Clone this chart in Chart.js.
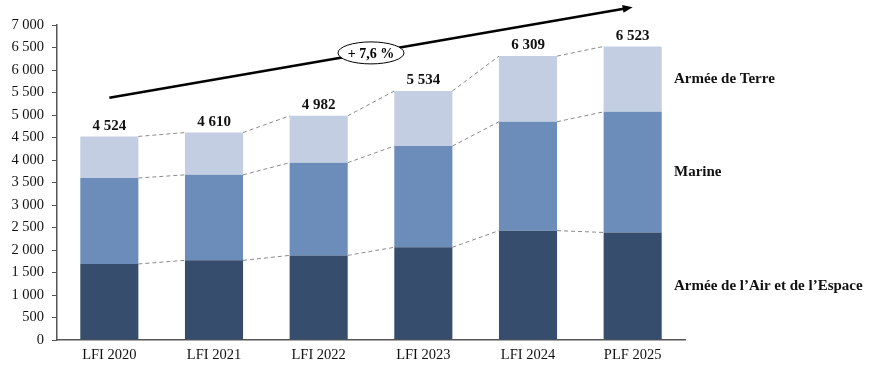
<!DOCTYPE html>
<html>
<head>
  <meta charset="utf-8">
  <title>Armées - effectifs</title>
  <script src="https://cdn.jsdelivr.net/npm/chart.js"></script>
  <style>
    html, body { margin: 0; padding: 0; background: #fff; }
    #wrap { width: 874px; height: 371px; position: relative; }
  </style>
</head>
<body>
  <div id="wrap"><canvas id="myChart"></canvas></div>

  <script>
    // données
    const categories = ['LFI 2020', 'LFI 2021', 'LFI 2022', 'LFI 2023', 'LFI 2024', 'PLF 2025'];
    const air    = [1690, 1770, 1880, 2060, 2430, 2390];
    const marine = [1910, 1900, 2060, 2250, 2420, 2680];
    const totals = [4524, 4610, 4982, 5534, 6309, 6523];
    const terre  = totals.map((t, i) => t - air[i] - marine[i]);
    const seriesNames = ["Armée de l\u2019Air et de l\u2019Espace", 'Marine', 'Armée de Terre'];
    const colors = ['#374d6e', '#6c8cb9', '#c3cee2'];
    const trendLabel = '+ 7,6 %';
    // flèche de tendance (en coordonnées du graphique : index catégorie, valeur)
    const trendFrom = [0, 5385];
    const trendTo = [5, 7395];
    const trendBubble = [2.5, 6380];

    const serif = "'Palatino Linotype', 'Book Antiqua', Palatino, 'Liberation Serif', serif";
    const fmt = v => String(v).replace(/\B(?=(\d{3})+(?!\d))/g, '\u00a0');

    const annotations = {
      id: 'annotations',
      afterDatasetsDraw(chart) {
        const ctx = chart.ctx;
        const xs = chart.scales.x, ys = chart.scales.y;
        const metas = [0, 1, 2].map(i => chart.getDatasetMeta(i));

        // pointillés entre les barres
        ctx.save();
        ctx.strokeStyle = '#8a8a8a';
        ctx.lineWidth = 1;
        ctx.setLineDash([4, 3]);
        metas.forEach(meta => {
          for (let i = 0; i < meta.data.length - 1; i++) {
            const a = meta.data[i], b = meta.data[i + 1];
            ctx.beginPath();
            ctx.moveTo(a.x + a.width / 2, a.y);
            ctx.lineTo(b.x - b.width / 2, b.y);
            ctx.stroke();
          }
        });
        ctx.restore();

        // totaux au-dessus des barres
        ctx.save();
        ctx.fillStyle = '#111';
        ctx.font = 'bold 15px ' + serif;
        ctx.textAlign = 'center';
        ctx.textBaseline = 'bottom';
        totals.forEach((t, i) => {
          ctx.fillText(fmt(t), xs.getPixelForValue(i), ys.getPixelForValue(t) - 3);
        });
        ctx.restore();

        // noms des séries à droite, au milieu des segments de la dernière barre
        ctx.save();
        ctx.fillStyle = '#111';
        ctx.font = 'bold 15px ' + serif;
        ctx.textAlign = 'left';
        ctx.textBaseline = 'middle';
        const last = categories.length - 1;
        metas.forEach((meta, k) => {
          const bar = meta.data[last];
          ctx.fillText(seriesNames[k], chart.chartArea.right - 11, (bar.y + bar.base) / 2);
        });
        ctx.restore();

        // flèche de tendance
        const x1 = xs.getPixelForValue(trendFrom[0]), y1 = ys.getPixelForValue(trendFrom[1]);
        const x2 = xs.getPixelForValue(trendTo[0]), y2 = ys.getPixelForValue(trendTo[1]);
        const ang = Math.atan2(y2 - y1, x2 - x1);
        ctx.save();
        ctx.strokeStyle = '#000';
        ctx.fillStyle = '#000';
        ctx.lineWidth = 2.5;
        ctx.beginPath();
        ctx.moveTo(x1, y1);
        ctx.lineTo(x2 - 6 * Math.cos(ang), y2 - 6 * Math.sin(ang));
        ctx.stroke();
        ctx.beginPath();
        ctx.moveTo(x2, y2);
        ctx.lineTo(x2 - 10 * Math.cos(ang) + 4 * Math.sin(ang), y2 - 10 * Math.sin(ang) - 4 * Math.cos(ang));
        ctx.lineTo(x2 - 10 * Math.cos(ang) - 4 * Math.sin(ang), y2 - 10 * Math.sin(ang) + 4 * Math.cos(ang));
        ctx.closePath();
        ctx.fill();

        // bulle "+ 7,6 %"
        const bx = xs.getPixelForValue(trendBubble[0]), by = ys.getPixelForValue(trendBubble[1]);
        ctx.beginPath();
        ctx.ellipse(bx, by, 33, 11, 0, 0, Math.PI * 2);
        ctx.fillStyle = '#fff';
        ctx.fill();
        ctx.lineWidth = 1;
        ctx.strokeStyle = '#000';
        ctx.stroke();
        ctx.fillStyle = '#000';
        ctx.font = 'bold 14px ' + serif;
        ctx.textAlign = 'center';
        ctx.textBaseline = 'middle';
        ctx.fillText(trendLabel, bx, by + 1);
        ctx.restore();
      }
    };

    const ctx = document.getElementById('myChart').getContext('2d');
    const myChart = new Chart(ctx, {
      type: 'bar',
      data: {
        labels: categories,
        datasets: [
          { label: seriesNames[0], data: air,    backgroundColor: colors[0] },
          { label: seriesNames[1], data: marine, backgroundColor: colors[1] },
          { label: seriesNames[2], data: terre,  backgroundColor: colors[2] }
        ]
      },
      options: {
        responsive: true,
        maintainAspectRatio: false,
        animation: false,
        datasets: {
          bar: { categoryPercentage: 1, barPercentage: 0.555, borderWidth: 0 }
        },
        layout: { padding: { top: 25, right: 189, bottom: 0, left: 0 } },
        plugins: {
          legend: { display: false },
          tooltip: { enabled: false }
        },
        scales: {
          x: {
            stacked: true,
            grid: { display: true, drawOnChartArea: false, drawTicks: false },
            border: { color: '#555', width: 1.5 },
            ticks: { color: '#111', font: { family: serif, size: 14.5 }, padding: 6 },
            afterFit(scale) { scale.height = 31; }
          },
          y: {
            stacked: true,
            min: 0,
            max: 7000,
            grid: { display: true, drawOnChartArea: false, drawTicks: true, tickLength: 5, color: '#555' },
            border: { color: '#555', width: 1.5 },
            ticks: {
              stepSize: 500,
              color: '#111',
              font: { family: serif, size: 14.5 },
              padding: 8,
              callback: v => fmt(v)
            },
            afterFit(scale) { scale.width = 57; }
          }
        }
      },
      plugins: [annotations]
    });
  </script>
</body>
</html>
